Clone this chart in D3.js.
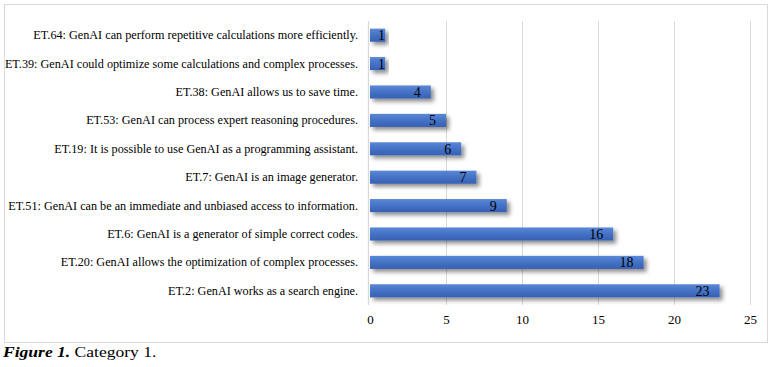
<!DOCTYPE html>
<html lang="en">
<head>
<meta charset="UTF-8">
<title>Category 1</title>
<script src="https://d3js.org/d3.v7.min.js"></script>
<style>
    body { margin: 0; background: #fff; }
    svg text { font-family: "Liberation Serif", "Times New Roman", Times, "DejaVu Serif", serif; }
</style>
</head>
<body>
<svg width="772" height="367"></svg>
<script>
// chart data
const labels = [
    "ET.64: GenAI can perform repetitive calculations more efficiently.",
    "ET.39: GenAI could optimize some calculations and complex processes.",
    "ET.38: GenAI allows us to save time.",
    "ET.53: GenAI can process expert reasoning procedures.",
    "ET.19: It is possible to use GenAI as a programming assistant.",
    "ET.7: GenAI is an image generator.",
    "ET.51: GenAI can be an immediate and unbiased access to information.",
    "ET.6: GenAI is a generator of simple correct codes.",
    "ET.20: GenAI allows the optimization of complex processes.",
    "ET.2: GenAI works as a search engine."
];
const counts = [1, 1, 4, 5, 6, 7, 9, 16, 18, 23];
const xTicks = [0, 5, 10, 15, 20, 25];

const svg = d3.select("svg");

// outer frame
svg.append("rect")
    .attr("x", 4.5).attr("y", 4.5)
    .attr("width", 763).attr("height", 338)
    .attr("fill", "none").attr("stroke", "#d9d9d9");

const x = d3.scaleLinear().domain([0, 25]).range([370, 750]);
const y = d3.scaleBand().domain(labels).range([21, 305]).paddingInner(0.54).paddingOuter(0.27);

const defs = svg.append("defs");
const grad = defs.append("linearGradient").attr("id", "barGrad")
    .attr("x1", 0).attr("y1", 0).attr("x2", 0).attr("y2", 1);
grad.append("stop").attr("offset", "0%").attr("stop-color", "#5b87d6");
grad.append("stop").attr("offset", "50%").attr("stop-color", "#4472c4");
grad.append("stop").attr("offset", "100%").attr("stop-color", "#3760b5");

const shadow = defs.append("filter").attr("id", "shadow")
    .attr("x", "-10%").attr("y", "-50%").attr("width", "130%").attr("height", "250%");
shadow.append("feDropShadow")
    .attr("dx", 3).attr("dy", 3).attr("stdDeviation", 2.2)
    .attr("flood-color", "#000").attr("flood-opacity", 0.45);

// gridlines
svg.append("g")
    .selectAll("line")
    .data(xTicks.slice(1))
    .join("line")
    .attr("x1", d => x(d) + 0.5).attr("x2", d => x(d) + 0.5)
    .attr("y1", 21).attr("y2", 305)
    .attr("stroke", "#d9d9d9");

// vertical axis line
svg.append("line")
    .attr("x1", x(0) - 1.5).attr("x2", x(0) - 1.5)
    .attr("y1", 21).attr("y2", 305)
    .attr("stroke", "#d9d9d9").attr("stroke-width", 1.2);

// x axis
const xAxis = svg.append("g")
    .attr("transform", "translate(0,305)")
    .call(d3.axisBottom(x).tickValues(xTicks).tickSize(0).tickPadding(10));
xAxis.attr("font-family", null);
xAxis.select(".domain").remove();
xAxis.selectAll("text")
    .attr("font-size", 13).attr("fill", "#000");

// bars
svg.append("g")
    .selectAll("rect")
    .data(counts)
    .join("rect")
    .attr("x", x(0))
    .attr("y", (d, i) => y(labels[i]))
    .attr("width", d => x(d) - x(0))
    .attr("height", y.bandwidth())
    .attr("fill", "url(#barGrad)")
    .attr("filter", "url(#shadow)");

// value labels
svg.append("g")
    .selectAll("text")
    .data(counts)
    .join("text")
    .attr("x", d => Math.max(x(d) - 10, x(0) + 15))
    .attr("y", (d, i) => y(labels[i]) + y.bandwidth() / 2 + 5)
    .attr("text-anchor", "end")
    .attr("font-size", 14)
    .attr("fill", "#000")
    .text(d => d);

// category labels
svg.append("g")
    .selectAll("text")
    .data(labels)
    .join("text")
    .attr("x", 358)
    .attr("y", d => y(d) + y.bandwidth() / 2 + 4)
    .attr("text-anchor", "end")
    .attr("font-size", 12.2)
    .attr("fill", "#000")
    .text(d => d);

// caption
const cap = svg.append("text")
    .attr("x", 3).attr("y", 357)
    .attr("font-size", 15).attr("fill", "#000")
    .attr("transform", "translate(3,0) scale(1.17,1) translate(-3,0)");
cap.append("tspan").attr("font-weight", "bold").attr("font-style", "italic").text("Figure 1.");
cap.append("tspan").text(" Category 1.");
</script>
</body>
</html>
